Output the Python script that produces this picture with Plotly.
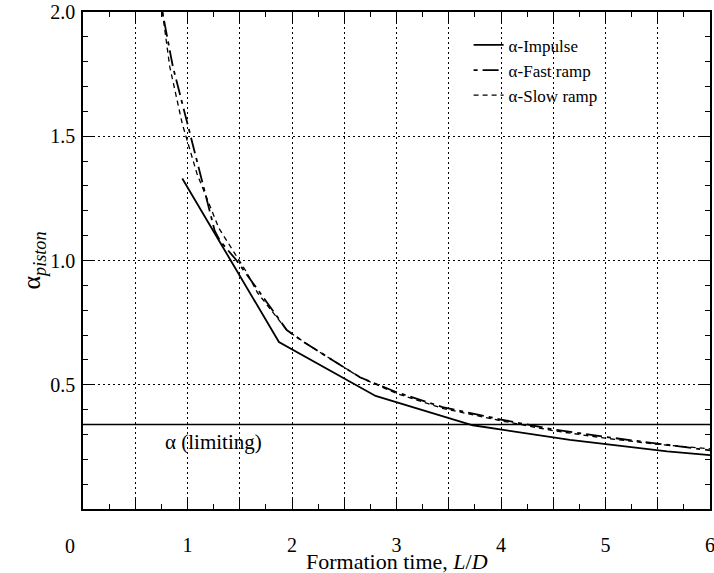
import plotly.graph_objects as go

# ---- data ----
impulse_x = [0.95, 1.875, 2.80, 3.73, 4.66, 5.59, 6.0]
impulse_y = [1.33, 0.672, 0.455, 0.337, 0.278, 0.232, 0.217]

fast_x = [0.76, 0.86, 1.0, 1.14, 1.26, 1.31, 1.47, 1.66, 1.95, 2.12, 2.65, 3.0, 3.44, 4.0, 4.5, 5.0, 5.46, 6.0]
fast_y = [2.0, 1.78, 1.55, 1.32, 1.12, 1.08, 1.0, 0.89, 0.72, 0.67, 0.53, 0.47, 0.41, 0.36, 0.32, 0.29, 0.266, 0.236]

slow_x = [0.76, 0.83, 0.95, 1.09, 1.3, 1.57, 1.67, 1.95, 2.12, 2.65, 3.0, 3.44, 4.0, 4.5, 5.0, 5.46, 6.0]
slow_y = [2.0, 1.78, 1.55, 1.35, 1.13, 0.95, 0.87, 0.72, 0.67, 0.53, 0.465, 0.405, 0.355, 0.315, 0.285, 0.262, 0.242]

limit_x = [0, 6]
limit_y = [0.34, 0.34]

names = ["α-Impulse", "α-Fast ramp", "α-Slow ramp"]

FONT = "Liberation Serif, Times New Roman, serif"

fig = go.Figure()
fig.add_trace(go.Scatter(x=impulse_x, y=impulse_y, mode="lines", name=names[0],
                         line=dict(color="black", width=1.8)))
fig.add_trace(go.Scatter(x=fast_x, y=fast_y, mode="lines", name=names[1],
                         line=dict(color="black", width=1.8, dash="4px,5px,16px,5px")))
fig.add_trace(go.Scatter(x=slow_x, y=slow_y, mode="lines", name=names[2],
                         line=dict(color="black", width=1.3, dash="5px,4px")))
fig.add_trace(go.Scatter(x=limit_x, y=limit_y, mode="lines", showlegend=False,
                         line=dict(color="black", width=1.3)))

fig.add_annotation(x=0.77, y=0.27, xref="x", yref="y", text="α (limiting)", showarrow=False,
                   xanchor="left", yanchor="middle", font=dict(family=FONT, size=21, color="black"))
fig.add_annotation(x=0, y=0, xref="x", yref="y", text="0", showarrow=False,
                   xanchor="center", yanchor="middle", xshift=-13, yshift=-37,
                   font=dict(family=FONT, size=20, color="black"))
# x-axis title
fig.add_annotation(x=0.5, y=0, xref="paper", yref="paper", text="Formation time, <i>L</i>/<i>D</i>",
                   showarrow=False, xanchor="center", yanchor="middle", yshift=-52,
                   font=dict(family=FONT, size=22, color="black"))

axis_common = dict(
    showline=True, linecolor="black", linewidth=1.5, mirror="allticks",
    ticks="inside", ticklen=10, tickcolor="black", tickwidth=1.3,
    showgrid=True, gridcolor="black", gridwidth=1, griddash="2px,3px",
    zeroline=False, tickfont=dict(family=FONT, size=20, color="black"),
    automargin=False, ticklabeloverflow="allow",
)

fig.update_xaxes(**axis_common, range=[0, 6], tickmode="linear", tick0=0, dtick=0.5,
                 labelalias={"0": "", "0.5": "", "1.5": "", "2.5": "", "3.5": "", "4.5": "", "5.5": ""},
                 minor=dict(dtick=0.25, tick0=0, ticks="inside", ticklen=5, tickcolor="black", showgrid=False),
                 ticklabelstandoff=17)
fig.update_yaxes(**axis_common, range=[0, 2.0], tickmode="linear", tick0=0, dtick=0.5, tickformat=".1f",
                 labelalias={"0.0": ""},
                 minor=dict(dtick=0.1, tick0=0, ticks="inside", ticklen=5, tickcolor="black", showgrid=False),
                 ticklabelstandoff=2,
                 title=dict(text="α<sub><i>piston</i></sub>", font=dict(family=FONT, size=26, color="black"),
                            standoff=2))

fig.update_layout(
    width=714, height=573,
    margin=dict(l=83, r=4, t=12, b=64),
    plot_bgcolor="white", paper_bgcolor="white",
    showlegend=True,
    legend=dict(x=0.615, y=0.969, xanchor="left", yanchor="top", bgcolor="rgba(0,0,0,0)",
                font=dict(family=FONT, size=17, color="black"), tracegroupgap=0),
)

fig.write_html("out.html", config={"displayModeBar": False},
               post_script="document.body.style.margin='0px';")
